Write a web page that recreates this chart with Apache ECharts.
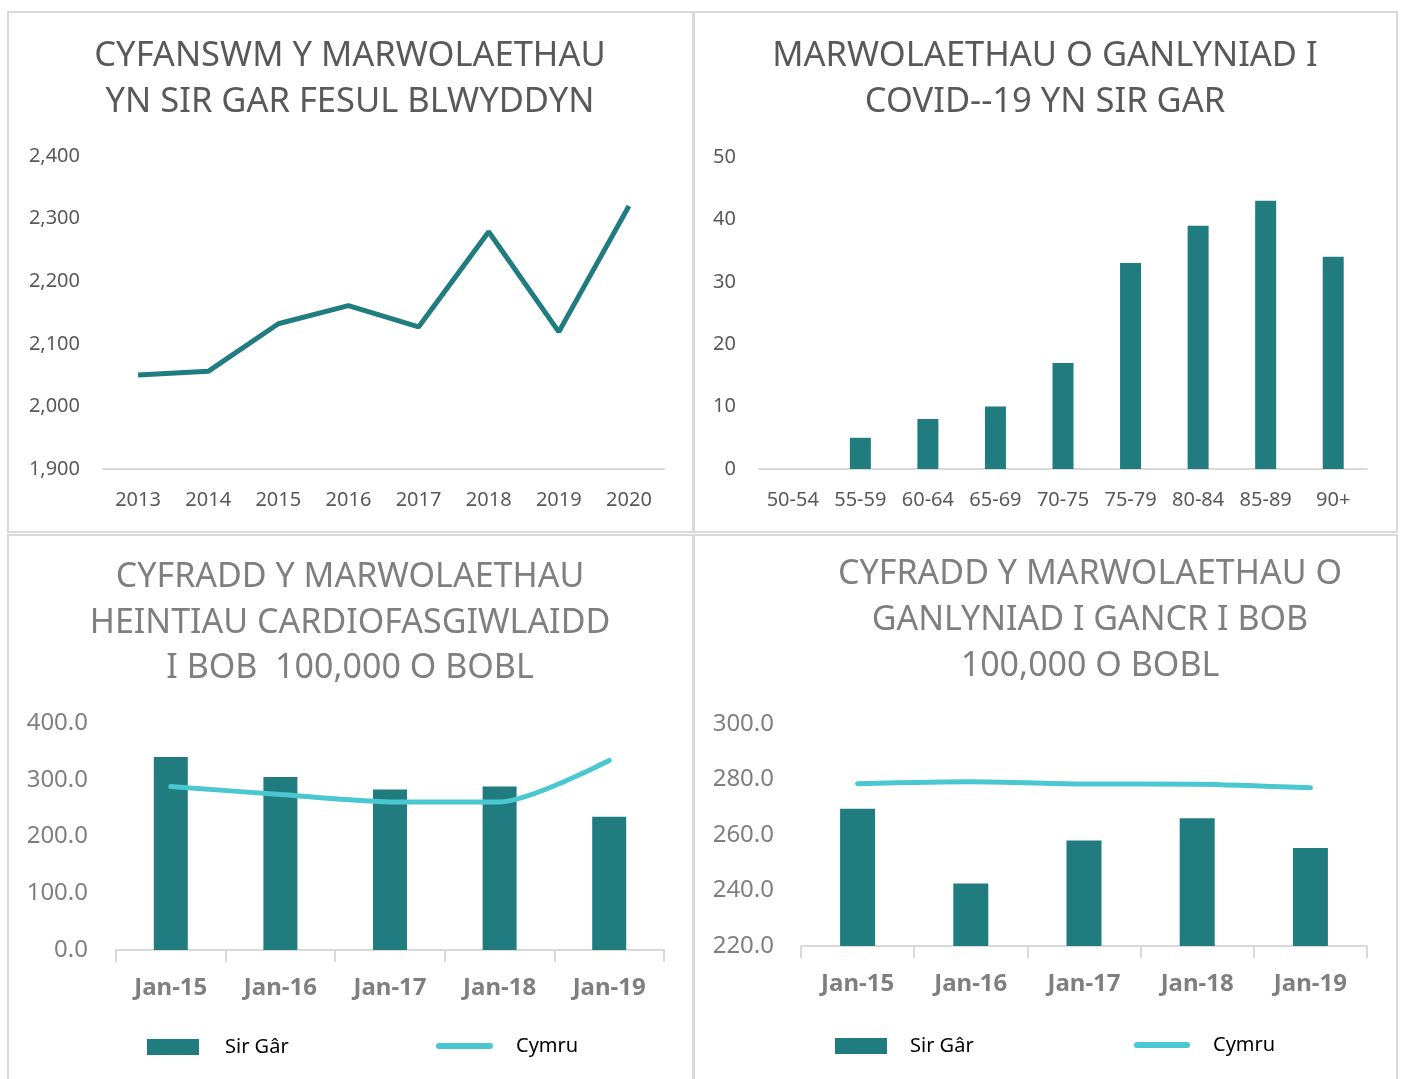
<!DOCTYPE html>
<html>
<head>
<meta charset="utf-8">
<script src="https://cdn.jsdelivr.net/npm/echarts@6/dist/echarts.min.js"></script>
<style>
html,body{margin:0;padding:0;background:#fff;}
#chart{width:1403px;height:1079px;}
</style>
</head>
<body>
<div id="chart"></div>
<script>
// Panel 1: total deaths per year
const years = ['2013','2014','2015','2016','2017','2018','2019','2020'];
const totalDeaths = [2050, 2056, 2132, 2161, 2127, 2279, 2119, 2320];

// Panel 2: COVID-19 deaths by age group
const ageGroups = ['50-54','55-59','60-64','65-69','70-75','75-79','80-84','85-89','90+'];
const covidDeaths = [0, 5, 8, 10, 17, 33, 39, 43, 34];

// Panel 3: cardiovascular death rate per 100,000
const periods = ['Jan-15','Jan-16','Jan-17','Jan-18','Jan-19'];
const cardioSirGar = [340, 305, 283, 288, 235];
const cardioCymru = [288, 274, 261, 261, 334];

// Panel 4: cancer death rate per 100,000
const cancerSirGar = [269.5, 242.5, 258, 266, 255.3];
const cancerCymru = [278.5, 279.2, 278.4, 278.3, 277.0];

const teal = '#217c80';
const cyan = '#4bc7d2';
const axisGray = '#d9d9d9';
const FONT = '"Noto Sans", "Open Sans", sans-serif';

const chart = echarts.init(document.getElementById('chart'));

function titleText(x, y, text, color, size, lh) {
  return {
    type: 'text', x: x, y: y, silent: true,
    style: { text: text, fill: color, font: 'normal ' + size + 'px ' + FONT,
             align: 'center', verticalAlign: 'top', lineHeight: lh }
  };
}
function panelRect(x, y, w, h) {
  return { type: 'rect', shape: { x: x, y: y, width: w, height: h }, silent: true,
           style: { fill: 'none', stroke: axisGray, lineWidth: 2 } };
}

const option = {
  animation: false,
  backgroundColor: '#fff',
  textStyle: { fontFamily: FONT },
  graphic: [
    panelRect(8, 12, 685, 520),
    panelRect(694, 12, 703, 520),
    panelRect(8, 535, 685, 560),
    panelRect(694, 535, 703, 560),
    titleText(350, 33, 'CYFANSWM Y MARWOLAETHAU\nYN SIR GAR FESUL BLWYDDYN', '#595959', 34.5, 46),
    titleText(1045, 33, 'MARWOLAETHAU O GANLYNIAD I\nCOVID--19 YN SIR GAR', '#595959', 34.5, 46),
    titleText(350, 555, 'CYFRADD Y MARWOLAETHAU\nHEINTIAU CARDIOFASGIWLAIDD\nI BOB  100,000 O BOBL', '#7f7f7f', 34, 45.5),
    titleText(1090, 551, 'CYFRADD Y MARWOLAETHAU O\nGANLYNIAD I GANCR I BOB\n100,000 O BOBL', '#7f7f7f', 34, 46)
  ],
  grid: [
    { left: 103, right: 739, top: 156, bottom: 610 },
    { left: 759, right: 36, top: 157, bottom: 610 },
    { left: 116, right: 739, top: 723, bottom: 129 },
    { left: 801, right: 36, top: 724, bottom: 133 }
  ],
  xAxis: [
    { type: 'category', gridIndex: 0, data: years,
      axisLine: { lineStyle: { color: axisGray, width: 2 } }, axisTick: { show: false },
      axisLabel: { color: '#595959', fontSize: 20, margin: 21 } },
    { type: 'category', gridIndex: 1, data: ageGroups,
      axisLine: { lineStyle: { color: axisGray, width: 2 } }, axisTick: { show: false },
      axisLabel: { color: '#595959', fontSize: 20, margin: 21, interval: 0 } },
    { type: 'category', gridIndex: 2, data: periods,
      axisLine: { lineStyle: { color: axisGray, width: 2 } },
      axisTick: { show: true, length: 12, lineStyle: { color: axisGray, width: 2 } },
      axisLabel: { color: '#7f7f7f', fontSize: 24, fontWeight: 'bold', margin: 26 } },
    { type: 'category', gridIndex: 3, data: periods,
      axisLine: { lineStyle: { color: axisGray, width: 2 } },
      axisTick: { show: true, length: 12, lineStyle: { color: axisGray, width: 2 } },
      axisLabel: { color: '#7f7f7f', fontSize: 24, fontWeight: 'bold', margin: 26 } }
  ],
  yAxis: [
    { type: 'value', gridIndex: 0, min: 1900, max: 2400, interval: 100,
      splitLine: { show: false }, axisLine: { show: false },
      axisLabel: { color: '#595959', fontSize: 20, margin: 23,
        formatter: v => v.toLocaleString('en-US') } },
    { type: 'value', gridIndex: 1, min: 0, max: 50, interval: 10,
      splitLine: { show: false }, axisLine: { show: false },
      axisLabel: { color: '#595959', fontSize: 20, margin: 23 } },
    { type: 'value', gridIndex: 2, min: 0, max: 400, interval: 100,
      splitLine: { show: false }, axisLine: { show: false },
      axisLabel: { color: '#7f7f7f', fontSize: 24, margin: 28, formatter: v => v.toFixed(1) } },
    { type: 'value', gridIndex: 3, min: 220, max: 300, interval: 20,
      splitLine: { show: false }, axisLine: { show: false },
      axisLabel: { color: '#7f7f7f', fontSize: 24, margin: 27, formatter: v => v.toFixed(1) } }
  ],
  legend: [
    { data: ['Sir Gâr'], left: 142, top: 1032, itemWidth: 52, itemHeight: 16, icon: 'rect',
      textStyle: { color: '#000', fontSize: 20, padding: [0, 0, 0, 21] } },
    { data: ['Cymru'], left: 431, top: 1031, itemWidth: 51, itemHeight: 18,
      lineStyle: { width: 6, cap: 'round' }, itemStyle: { opacity: 0 },
      textStyle: { color: '#000', fontSize: 20, padding: [0, 0, 0, 21] } },
    { data: ['Sir Gâr'], left: 830, top: 1031, itemWidth: 52, itemHeight: 16, icon: 'rect',
      textStyle: { color: '#000', fontSize: 20, padding: [0, 0, 0, 18] } },
    { data: ['Cymru'], left: 1129, top: 1030, itemWidth: 50, itemHeight: 18,
      lineStyle: { width: 6, cap: 'round' }, itemStyle: { opacity: 0 },
      textStyle: { color: '#000', fontSize: 20, padding: [0, 0, 0, 21] } }
  ],
  series: [
    { type: 'line', name: 'Cyfanswm', xAxisIndex: 0, yAxisIndex: 0, data: totalDeaths,
      symbol: 'none', lineStyle: { color: teal, width: 5 } },
    { type: 'bar', name: 'COVID-19', xAxisIndex: 1, yAxisIndex: 1, data: covidDeaths,
      barWidth: 21, itemStyle: { color: teal } },
    { type: 'bar', name: 'Sir Gâr', xAxisIndex: 2, yAxisIndex: 2, data: cardioSirGar,
      barWidth: 34, itemStyle: { color: teal } },
    { type: 'line', name: 'Cymru', xAxisIndex: 2, yAxisIndex: 2, data: cardioCymru,
      symbol: 'none', smooth: 0.25, color: cyan, lineStyle: { color: cyan, width: 5, cap: 'round' } },
    { type: 'bar', name: 'Sir Gâr', xAxisIndex: 3, yAxisIndex: 3, data: cancerSirGar,
      barWidth: 35, itemStyle: { color: teal } },
    { type: 'line', name: 'Cymru', xAxisIndex: 3, yAxisIndex: 3, data: cancerCymru,
      symbol: 'none', smooth: 0.25, color: cyan, lineStyle: { color: cyan, width: 5, cap: 'round' } }
  ]
};
chart.setOption(option);
</script>
</body>
</html>
